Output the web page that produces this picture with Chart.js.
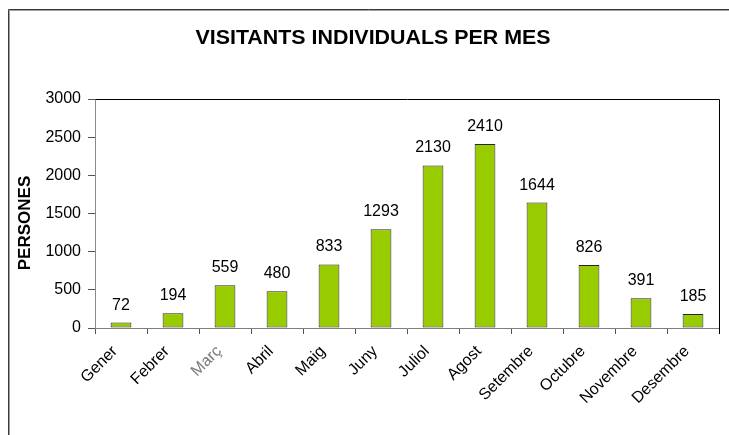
<!DOCTYPE html>
<html>
<head>
<meta charset="utf-8">
<script src="https://cdn.jsdelivr.net/npm/chart.js@4/dist/chart.umd.min.js"></script>
<style>
html,body{margin:0;padding:0;background:#fff;}
canvas{display:block;}
</style>
</head>
<body>
<canvas id="c" width="729" height="435"></canvas>
<script>
const months = ["Gener","Febrer","Març","Abril","Maig","Juny","Juliol","Agost","Setembre","Octubre","Novembre","Desembre"];
const visitants = [72,194,559,480,833,1293,2130,2410,1644,826,391,185];
const yTicks = [0,500,1000,1500,2000,2500,3000];
const chartTitle = "VISITANTS INDIVIDUALS PER MES";
const yTitle = "PERSONES";

const FONT = "'Liberation Sans', Arial, sans-serif";

const decor = {
  id: 'decor',
  beforeDraw(chart) {
    const ctx = chart.ctx;
    ctx.save();
    ctx.fillStyle = '#fff';
    ctx.fillRect(0, 0, chart.width, chart.height);
    ctx.lineWidth = 1;
    ctx.strokeStyle = '#3a3a3a';
    ctx.beginPath();
    ctx.moveTo(8.5, chart.height); ctx.lineTo(8.5, 9.5); ctx.lineTo(chart.width, 9.5);
    ctx.stroke();
    ctx.strokeStyle = '#a0a0a0';
    ctx.beginPath();
    ctx.moveTo(9.5, chart.height); ctx.lineTo(9.5, 10.5); ctx.lineTo(chart.width, 10.5);
    ctx.stroke();
    ctx.restore();
  },
  afterDraw(chart) {
    const ctx = chart.ctx;
    const a = chart.chartArea;
    ctx.save();
    ctx.strokeStyle = '#000';
    ctx.lineWidth = 1;
    ctx.beginPath();
    ctx.moveTo(Math.round(a.left) + 0.5, Math.round(a.top) + 0.5);
    ctx.lineTo(Math.round(a.right) + 0.5, Math.round(a.top) + 0.5);
    ctx.lineTo(Math.round(a.right) + 0.5, Math.round(a.bottom) + 6);
    ctx.stroke();
    ctx.fillStyle = '#000';
    ctx.font = "bold 20px " + FONT;
    ctx.textAlign = 'center';
    ctx.textBaseline = 'middle';
    ctx.save();
    ctx.translate(373, 38);
    ctx.scale(1.07, 1);
    ctx.fillText(chartTitle, 0, 0);
    ctx.restore();
    ctx.save();
    ctx.translate(25, 223);
    ctx.rotate(-Math.PI / 2);
    ctx.font = "bold 17px " + FONT;
    ctx.fillText(yTitle, 0, 0);
    ctx.restore();
    const meta = chart.getDatasetMeta(0);
    ctx.font = "16px " + FONT;
    ctx.textBaseline = 'alphabetic';
    meta.data.forEach((bar, i) => {
      ctx.fillText(String(visitants[i]), bar.x, bar.y - 13);
    });
    ctx.restore();
  }
};

new Chart(document.getElementById('c'), {
  type: 'bar',
  data: {
    labels: months,
    datasets: [{
      data: visitants,
      backgroundColor: '#99CC00',
      borderColor: '#262626',
      borderWidth: 1,
      borderSkipped: false,
      barPercentage: 0.8,
      categoryPercentage: 0.5
    }]
  },
  options: {
    responsive: false,
    animation: false,
    events: [],
    layout: { padding: { top: 99, right: 10, left: 0, bottom: 0 } },
    plugins: { legend: { display: false }, title: { display: false }, tooltip: { enabled: false } },
    scales: {
      x: {
        afterFit(scale) { scale.height = 107; },
        border: { color: '#7f7f7f', width: 1 },
        grid: { offset: true, drawOnChartArea: false, tickLength: 6, color: '#555' },
        ticks: {
          minRotation: 45, maxRotation: 45, padding: 8, labelOffset: -6,
          font: { size: 16, family: FONT },
          color: (c) => c.index === 2 ? '#7a7a7a' : '#000'
        }
      },
      y: {
        min: 0, max: 3000,
        afterFit(scale) { scale.width = 95; },
        afterBuildTicks(scale) { scale.ticks = yTicks.map(v => ({ value: v })); },
        border: { color: '#8a8a8a', width: 1 },
        grid: { drawOnChartArea: false, tickLength: 7, color: '#555' },
        ticks: {
          padding: 7, font: { size: 16, family: FONT }, color: '#000',
          callback: (v) => String(v)
        }
      }
    }
  },
  plugins: [decor]
});
</script>
</body>
</html>
